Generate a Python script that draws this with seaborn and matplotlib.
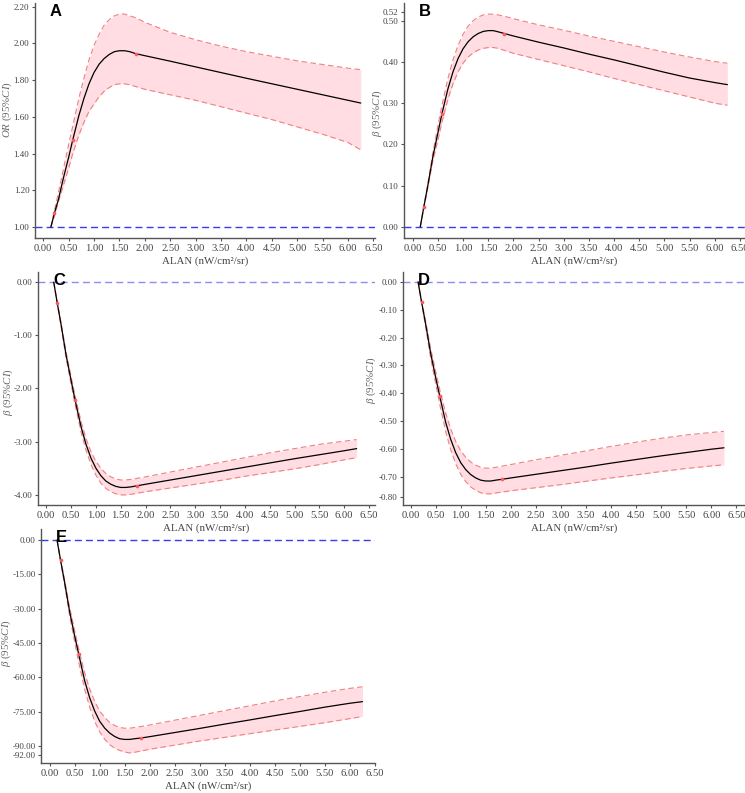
import matplotlib
matplotlib.use("Agg")
import matplotlib.pyplot as plt
import seaborn as sns
import numpy as np
import pandas as pd

# ALAN exposure grid (nW/cm2/sr) and spline knots
alan = [0.15, 0.22, 0.3, 0.4, 0.5, 0.58, 0.7, 0.8, 0.9, 1.0, 1.1, 1.2, 1.3, 1.4,
        1.5, 1.6, 1.7, 1.82, 2.0, 2.5, 3.0, 3.5, 4.0, 4.5, 5.0, 5.5, 6.0, 6.25]
knots = [0.22, 0.58, 1.82]

# A: odds ratio
a_mid = [1.0, 1.076, 1.152, 1.271, 1.38, 1.474, 1.606, 1.70, 1.78, 1.842, 1.887, 1.918, 1.94, 1.955,
         1.96, 1.96, 1.955, 1.944, 1.933, 1.903, 1.872, 1.841, 1.81, 1.78, 1.75, 1.72, 1.69, 1.675]
a_up = [1.0, 1.09, 1.19, 1.32, 1.45, 1.55, 1.70, 1.81, 1.91, 1.99, 2.05, 2.10, 2.13, 2.15,
        2.16, 2.16, 2.15, 2.14, 2.115, 2.06, 2.02, 1.985, 1.955, 1.93, 1.905, 1.885, 1.865, 1.857]
a_low = [1.0, 1.06, 1.14, 1.23, 1.32, 1.40, 1.50, 1.57, 1.63, 1.67, 1.71, 1.74, 1.76, 1.775,
         1.78, 1.78, 1.775, 1.765, 1.75, 1.72, 1.69, 1.655, 1.62, 1.585, 1.545, 1.505, 1.46, 1.42]

# B: beta
b_mid = [0.0, 0.048, 0.10, 0.17, 0.228, 0.274, 0.335, 0.376, 0.408, 0.432, 0.449, 0.461, 0.469, 0.474,
         0.476, 0.476, 0.473, 0.469, 0.463, 0.448, 0.434, 0.419, 0.405, 0.39, 0.375, 0.361, 0.35, 0.345]
b_up = [0.0, 0.05, 0.105, 0.18, 0.245, 0.295, 0.36, 0.405, 0.44, 0.467, 0.487, 0.50, 0.509, 0.514,
        0.516, 0.516, 0.514, 0.511, 0.505, 0.49, 0.477, 0.463, 0.45, 0.437, 0.424, 0.412, 0.401, 0.397]
b_low = [0.0, 0.044, 0.095, 0.16, 0.21, 0.253, 0.31, 0.347, 0.376, 0.397, 0.412, 0.422, 0.429, 0.433,
         0.435, 0.435, 0.433, 0.428, 0.421, 0.406, 0.391, 0.376, 0.36, 0.345, 0.33, 0.315, 0.30, 0.295]

# C: beta
c_mid = [0.0, -0.39, -0.81, -1.38, -1.85, -2.22, -2.72, -3.05, -3.31, -3.50, -3.64, -3.74, -3.80, -3.84,
         -3.86, -3.86, -3.85, -3.83, -3.80, -3.72, -3.64, -3.56, -3.48, -3.40, -3.32, -3.245, -3.17, -3.13]
c_up = [0.0, -0.37, -0.78, -1.32, -1.78, -2.14, -2.62, -2.94, -3.19, -3.37, -3.50, -3.60, -3.66, -3.70,
        -3.72, -3.72, -3.71, -3.69, -3.66, -3.57, -3.48, -3.39, -3.30, -3.21, -3.13, -3.05, -2.99, -2.96]
c_low = [0.0, -0.41, -0.85, -1.44, -1.92, -2.30, -2.82, -3.16, -3.43, -3.63, -3.78, -3.88, -3.94, -3.98,
         -4.0, -4.0, -3.99, -3.97, -3.94, -3.87, -3.80, -3.73, -3.65, -3.58, -3.51, -3.43, -3.34, -3.30]

# D: beta
d_mid = [0.0, -0.072, -0.15, -0.255, -0.342, -0.408, -0.503, -0.564, -0.612, -0.648, -0.673, -0.691, -0.703, -0.711,
         -0.714, -0.714, -0.711, -0.708, -0.703, -0.69, -0.677, -0.664, -0.65, -0.637, -0.624, -0.612, -0.60, -0.595]
d_up = [0.0, -0.068, -0.14, -0.238, -0.32, -0.385, -0.47, -0.527, -0.572, -0.605, -0.629, -0.646, -0.657, -0.665,
        -0.668, -0.668, -0.665, -0.661, -0.655, -0.638, -0.622, -0.606, -0.59, -0.575, -0.561, -0.549, -0.54, -0.536]
d_low = [0.0, -0.076, -0.16, -0.272, -0.364, -0.437, -0.536, -0.601, -0.652, -0.69, -0.716, -0.735, -0.748, -0.756,
         -0.76, -0.76, -0.757, -0.754, -0.749, -0.738, -0.727, -0.715, -0.703, -0.692, -0.68, -0.669, -0.66, -0.656]

# E: beta
e_mid = [0.0, -8.8, -18.3, -31.1, -41.7, -49.6, -61.3, -68.8, -74.6, -79.1, -82.1, -84.3, -85.8, -86.8,
         -87.1, -87.1, -86.8, -86.5, -85.9, -84.1, -82.3, -80.4, -78.6, -76.7, -74.9, -73.0, -71.3, -70.6]
e_up = [0.0, -8.3, -17.3, -29.3, -39.4, -47.3, -57.9, -64.9, -70.4, -74.6, -77.5, -79.6, -81.0, -81.9,
        -82.2, -82.2, -81.9, -81.5, -80.8, -78.7, -76.6, -74.5, -72.4, -70.3, -68.4, -66.5, -64.8, -64.1]
e_low = [0.0, -9.3, -19.4, -32.9, -44.2, -53.2, -65.0, -72.9, -79.1, -83.8, -87.0, -89.4, -90.9, -91.9,
         -92.6, -93.0, -92.7, -92.2, -91.4, -89.6, -87.8, -86.2, -84.6, -83.0, -81.4, -79.8, -78.0, -77.1]

sns.set_theme(style="ticks")
plt.rcParams["font.family"] = ["Liberation Serif", "DejaVu Serif"]
plt.rcParams["mathtext.fontset"] = "custom"
plt.rcParams["mathtext.rm"] = "Liberation Serif"
plt.rcParams["mathtext.it"] = "Liberation Serif:italic"

W, H = 745, 793
fig = plt.figure(figsize=(W / 100, H / 100), dpi=100)

beta_lab = r"$\mathit{β}$ (95%$\mathit{CI}$)"
dark_blue = "#3a3af0"
light_blue = "#8c8cf4"

# (letter, mid, low, up, ref, ylim, ticks, ticklabels, ylabel, refcolor,
#  box px [l, t, r, b], xlim, ylabel centre in px)
panels = [
    ("A", a_mid, a_low, a_up, 1.0, (0.94, 2.22),
     [1.0, 1.2, 1.4, 1.6, 1.8, 2.0, 2.2], None,
     r"$\mathit{OR}$ (95%$\mathit{CI}$)", dark_blue, (35, 3, 375, 238), (-0.163, 6.53), (7, 110)),
    ("B", b_mid, b_low, b_up, 0.0, (-0.027, 0.543),
     [0.0, 0.1, 0.2, 0.3, 0.4, 0.5, 0.52], None,
     beta_lab, dark_blue, (404, 3, 745, 238), (-0.173, 6.6), (377, 113)),
    ("C", c_mid, c_low, c_up, 0.0, (-4.19, 0.19),
     [0.0, -1.0, -2.0, -3.0, -4.0], None,
     beta_lab, light_blue, (38, 272, 375, 505), (-0.167, 6.62), (8, 392)),
    ("D", d_mid, d_low, d_up, 0.0, (-0.80, 0.035),
     [0.0, -0.1, -0.2, -0.3, -0.4, -0.5, -0.6, -0.7, -0.7705],
     ["0.00", "-0.10", "-0.20", "-0.30", "-0.40", "-0.50", "-0.60", "-0.70", "-0.80"],
     beta_lab, light_blue, (403, 272, 745, 505), (-0.15, 6.67), (371, 380)),
    ("E", e_mid, e_low, e_up, 0.0, (-97.4, 4.8),
     [0, -15, -30, -45, -60, -75, -90, -94.07],
     ["0.00", "-15.00", "-30.00", "-45.00", "-60.00", "-75.00", "-90.00", "-92.00"],
     beta_lab, dark_blue, (41, 529, 375, 763), (-0.17, 6.5), (6, 643)),
]

spine_col = "#555555"
text_col = "#444444"

for letter, mid, low, up, ref, ylim, yt, ytl, ylab, refcol, box, xlim, lab_px in panels:
    l, t, r, b = box
    ax = fig.add_axes([l / W, 1 - b / H, (r - l) / W, (b - t) / H])
    df = pd.DataFrame({"alan": alan, "mid": mid, "low": low, "up": up})

    ax.fill_between(df["alan"], df["low"], df["up"], color="#ffdde3", lw=0, zorder=1)
    sns.lineplot(data=df, x="alan", y="up", ax=ax, color="#f08080", lw=0.8,
                 linestyle=(0, (5, 3)), zorder=2)
    sns.lineplot(data=df, x="alan", y="low", ax=ax, color="#f08080", lw=0.8,
                 linestyle=(0, (5, 3)), zorder=2)
    sns.lineplot(data=df, x="alan", y="mid", ax=ax, color="black", lw=0.9, zorder=3)
    kdf = df[df["alan"].isin(knots)]
    ax.scatter(kdf["alan"], kdf["mid"], s=7, color="#ff5a5a", zorder=4, lw=0)
    ax.axhline(ref, color=refcol, lw=1.0, linestyle=(0, (5, 3)), zorder=0)

    ax.set_xlim(*xlim)
    ax.set_ylim(*ylim)
    ax.set_xticks(np.arange(0, 6.51, 0.5))
    ax.set_xticklabels([f"{v:.2f}" for v in np.arange(0, 6.51, 0.5)])
    ax.set_yticks(yt)
    if ytl is None:
        ytl = [f"{v:.2f}" for v in yt]
    ax.set_yticklabels(ytl)
    ax.tick_params(colors=spine_col, labelcolor=text_col, length=2.5, width=0.8, pad=2)
    ax.tick_params(axis="x", labelsize=7.6)
    ax.tick_params(axis="y", labelsize=6.5, pad=1.5)
    for s in ["top", "right"]:
        ax.spines[s].set_visible(False)
    for s in ["left", "bottom"]:
        ax.spines[s].set_color(spine_col)
        ax.spines[s].set_linewidth(1.0)
    ax.set_xlabel("ALAN (nW/cm²/sr)", fontsize=7.8, color=text_col, labelpad=2)
    ax.set_ylabel(ylab, fontsize=7.8, color="#666666", va="center")
    lx, ly = lab_px
    ax.yaxis.set_label_coords((lx - l) / (r - l), (b - ly) / (b - t))
    ax.grid(False)
    ax.patch.set_alpha(0)

    fig.text((l + 15) / W, 1 - (t + 1) / H, letter, fontsize=12, fontweight="bold",
             family="Liberation Sans", ha="left", va="top", color="black")

fig.savefig("out.png", dpi=100)
